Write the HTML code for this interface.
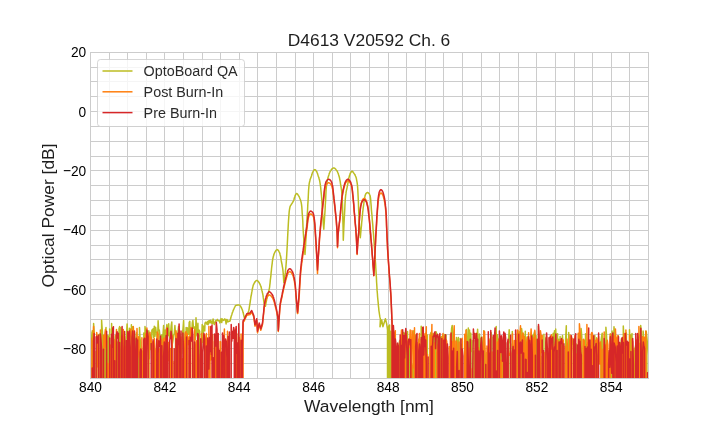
<!DOCTYPE html>
<html><head><meta charset="utf-8"><style>
html,body{margin:0;padding:0;background:#fff;width:720px;height:432px;overflow:hidden}
svg{display:block;font-family:"Liberation Sans", sans-serif;will-change:transform}
</style></head><body>
<svg width="720" height="432" viewBox="0 0 720 432"><rect width="720" height="432" fill="#fff"/><path d="M90.5 52V378M109.5 52V378M127.5 52V378M146.5 52V378M164.5 52V378M183.5 52V378M202.5 52V378M220.5 52V378M239.5 52V378M257.5 52V378M276.5 52V378M295.5 52V378M313.5 52V378M332.5 52V378M350.5 52V378M369.5 52V378M388.5 52V378M406.5 52V378M425.5 52V378M443.5 52V378M462.5 52V378M481.5 52V378M499.5 52V378M518.5 52V378M536.5 52V378M555.5 52V378M574.5 52V378M592.5 52V378M611.5 52V378M629.5 52V378M648.5 52V378M90 52.5H648M90 67.5H648M90 81.5H648M90 96.5H648M90 111.5H648M90 126.5H648M90 141.5H648M90 156.5H648M90 170.5H648M90 185.5H648M90 200.5H648M90 215.5H648M90 230.5H648M90 245.5H648M90 259.5H648M90 274.5H648M90 289.5H648M90 304.5H648M90 319.5H648M90 334.5H648M90 348.5H648M90 363.5H648M90 378.5H648" stroke="#cccccc" stroke-width="1" fill="none"/><clipPath id="c"><rect x="90.0" y="51.84" width="558.0" height="326.15999999999997"/></clipPath><g clip-path="url(#c)" fill="none" stroke-width="1.5" stroke-linejoin="round"><path d="M88.0 333.4L88.6 335.2L89.2 332.8L89.9 1500.0L90.5 332.0L91.1 348.1L91.7 348.4L92.3 330.8L93.0 1500.0L93.6 323.6L94.2 332.3L94.8 1500.0L95.4 1500.0L96.1 351.4L96.7 1500.0L97.3 1500.0L97.9 1500.0L98.5 335.8L99.2 334.2L99.8 334.6L100.4 335.4L101.0 1500.0L101.6 320.2L102.3 330.6L102.9 341.3L103.5 1500.0L104.1 1500.0L104.7 336.7L105.4 337.0L106.0 327.6L106.6 1500.0L107.2 1500.0L107.8 335.2L108.5 336.7L109.1 1500.0L109.7 329.1L110.3 1500.0L110.9 1500.0L111.6 323.6L112.2 346.4L112.8 1500.0L113.4 1500.0L114.0 1500.0L114.7 343.3L115.3 335.6L115.9 1500.0L116.5 345.6L117.1 346.5L117.8 341.9L118.4 1500.0L119.0 328.6L119.6 326.6L120.2 1500.0L120.9 327.4L121.5 347.6L122.1 341.9L122.7 1500.0L123.3 338.4L124.0 1500.0L124.6 1500.0L125.2 1500.0L125.8 340.9L126.4 337.3L127.1 323.9L127.7 333.1L128.3 343.1L128.9 1500.0L129.5 328.3L130.2 1500.0L130.8 1500.0L131.4 324.8L132.0 1500.0L132.6 326.7L133.3 336.2L133.9 1500.0L134.5 1500.0L135.1 341.0L135.7 340.4L136.4 332.7L137.0 1500.0L137.6 1500.0L138.2 350.4L138.8 1500.0L139.5 327.5L140.1 339.7L140.7 342.3L141.3 1500.0L141.9 1500.0L142.6 351.3L143.2 1500.0L143.8 333.1L144.4 1500.0L145.0 326.5L145.7 331.5L146.3 332.9L146.9 1500.0L147.5 1500.0L148.1 1500.0L148.8 330.7L149.4 358.7L150.0 334.9L150.6 338.6L151.2 349.7L151.9 330.0L152.5 330.0L153.1 328.8L153.7 337.8L154.3 326.2L155.0 336.3L155.6 327.2L156.2 332.1L156.8 332.9L157.4 349.2L158.1 320.8L158.7 330.2L159.3 330.0L159.9 335.8L160.5 348.9L161.2 356.3L161.8 334.9L162.4 1500.0L163.0 334.6L163.6 325.5L164.3 1500.0L164.9 1500.0L165.0 330.0L165.6 344.1L166.2 330.3L166.9 324.6L167.5 330.1L168.1 335.2L168.7 323.7L169.3 336.3L170.0 338.2L170.6 333.5L171.2 325.5L171.8 321.9L172.4 343.6L173.1 339.2L173.7 335.2L174.3 333.3L174.9 325.5L175.5 334.1L176.2 1500.0L176.8 1500.0L177.4 354.7L178.0 331.3L178.6 326.4L179.3 1500.0L179.9 333.7L180.5 1500.0L181.1 339.9L181.7 353.4L182.4 333.7L183.0 329.1L183.6 320.5L184.2 341.2L184.8 342.1L185.5 1500.0L186.1 327.6L186.7 338.2L187.3 327.8L187.9 329.5L188.6 334.5L189.2 322.3L189.8 321.3L190.4 344.4L191.0 329.1L191.7 334.7L192.3 323.0L192.9 320.5L193.5 328.3L194.1 326.7L194.8 328.4L195.4 339.7L196.0 317.8L196.6 330.5L197.2 335.9L197.9 323.2L198.5 347.5L199.1 330.0L199.7 331.4L200.3 1500.0L201.0 349.3L201.6 341.1L202.2 324.6L202.8 342.3L203.4 326.0L204.1 326.7L204.7 330.9L205.0 323.1L205.6 322.2L206.2 322.7L206.9 324.2L207.5 321.6L208.1 324.7L208.7 320.9L209.3 320.6L210.0 323.1L210.6 320.2L211.2 321.3L211.8 323.3L212.4 323.7L213.1 318.9L213.7 322.4L214.3 324.6L214.9 323.4L215.5 321.1L216.2 320.4L216.8 320.8L217.4 319.4L218.0 320.8L218.6 320.8L219.3 320.8L219.9 322.9L220.5 320.6L221.1 318.6L221.7 322.5L222.4 319.0L223.0 320.0L223.6 320.4L224.2 320.0L224.8 318.9L225.5 320.1L226.1 323.9L226.7 319.4L227.3 320.0L227.9 322.0L228.6 321.3L229.2 321.3L230.0 321.0L230.2 320.0L230.5 319.0L230.8 318.1L231.0 317.2L231.2 316.3L231.5 315.5L231.8 314.7L232.0 313.9L232.2 313.1L232.5 312.4L232.8 311.7L233.0 311.0L233.2 310.4L233.5 309.8L233.8 309.2L234.0 308.7L234.2 308.1L234.5 307.6L234.8 307.0L235.0 306.5L235.2 306.1L235.5 305.8L235.8 305.5L236.0 305.4L236.3 305.3L236.5 305.3L236.8 305.2L237.0 305.2L237.3 305.2L237.5 305.1L237.8 305.1L238.0 305.1L238.3 305.0L238.5 305.0L238.8 305.0L239.0 305.0L239.3 305.0L239.6 305.1L239.9 305.3L240.1 305.6L240.4 306.0L240.7 306.4L240.9 306.9L241.2 307.5L241.5 308.0L241.8 308.5L242.0 309.1L242.3 309.8L242.5 310.6L242.8 311.4L243.0 312.3L243.3 313.2L243.5 314.2L243.8 315.3L244.0 316.4L244.3 317.5L244.6 317.3L244.9 317.0L245.1 316.7L245.4 316.4L245.7 316.1L245.9 315.7L246.2 315.4L246.5 315.0L246.8 314.7L247.0 314.3L247.2 314.0L247.5 313.6L247.8 313.2L248.0 312.7L248.2 312.1L248.5 311.5L248.8 310.5L249.1 309.1L249.3 307.5L249.6 305.6L249.9 303.8L250.2 302.0L250.4 300.4L250.7 298.7L250.9 297.0L251.2 295.5L251.5 294.1L251.7 292.6L252.0 291.2L252.2 289.8L252.5 288.5L252.7 287.3L253.0 286.2L253.2 285.3L253.5 284.7L253.8 284.2L254.0 283.7L254.3 283.2L254.5 282.7L254.8 282.3L255.0 281.9L255.3 281.6L255.5 281.3L255.8 281.0L256.0 280.8L256.3 280.6L256.5 280.5L256.8 280.5L257.1 280.5L257.3 280.6L257.6 280.8L257.8 281.0L258.1 281.3L258.4 281.6L258.6 282.0L258.9 282.4L259.2 282.8L259.4 283.3L259.7 283.7L259.9 284.2L260.2 284.7L260.4 285.2L260.7 285.9L260.9 286.6L261.2 287.4L261.4 288.4L261.7 289.3L261.9 290.4L262.2 291.5L262.4 292.6L262.7 293.8L263.0 295.3L263.2 297.2L263.5 299.2L263.8 301.2L264.0 302.9L264.3 304.0L264.6 304.8L264.9 305.5L265.1 306.0L265.4 306.3L265.7 304.8L265.9 303.3L266.2 301.9L266.5 300.6L266.7 299.2L267.0 298.0L267.3 296.9L267.5 295.9L267.8 295.0L268.0 294.1L268.3 293.2L268.5 292.3L268.8 291.3L269.0 290.1L269.3 288.8L269.6 287.1L269.8 285.1L270.1 282.8L270.3 280.4L270.6 278.0L270.9 275.6L271.1 272.9L271.4 270.3L271.6 268.0L271.9 265.6L272.2 263.4L272.4 261.3L272.7 259.4L273.0 258.0L273.2 257.0L273.5 256.0L273.8 255.1L274.0 254.3L274.2 253.6L274.5 253.0L274.8 252.4L275.0 252.0L275.2 251.6L275.5 251.2L275.8 250.8L276.0 250.5L276.2 250.2L276.5 250.0L276.8 249.8L277.0 249.6L277.2 249.6L277.5 249.7L277.8 249.8L278.0 250.1L278.2 250.4L278.5 250.7L278.8 251.1L279.0 251.5L279.2 252.0L279.5 252.6L279.8 253.3L280.0 254.1L280.2 255.0L280.5 256.0L280.8 257.2L281.0 258.8L281.2 260.4L281.5 262.0L281.8 263.5L282.1 264.9L282.3 266.3L282.6 267.9L282.9 270.0L283.2 273.2L283.5 277.5L283.8 282.5L284.0 281.7L284.3 280.6L284.5 279.1L284.8 277.3L285.0 275.2L285.3 272.9L285.5 270.5L285.8 268.0L286.1 264.5L286.4 260.1L286.7 255.2L287.0 250.0L287.3 244.3L287.6 238.0L287.9 232.0L288.2 226.4L288.5 221.0L288.8 216.8L289.0 214.1L289.2 211.6L289.5 209.5L289.8 207.9L290.0 206.8L290.3 206.1L290.6 205.5L290.9 205.1L291.1 204.7L291.4 204.3L291.7 203.9L292.0 203.5L292.2 203.0L292.5 202.6L292.7 202.2L293.0 201.8L293.2 201.3L293.5 200.8L293.8 200.2L294.0 199.5L294.2 198.5L294.5 197.6L294.8 196.7L295.0 196.0L295.3 195.4L295.5 194.8L295.8 194.3L296.1 193.9L296.3 193.6L296.6 193.5L296.9 193.6L297.1 193.7L297.4 194.0L297.7 194.3L297.9 194.7L298.2 195.1L298.5 195.6L298.8 196.0L299.0 196.4L299.3 197.0L299.5 197.5L299.8 198.1L300.0 198.8L300.3 199.5L300.6 200.4L300.9 201.4L301.2 202.7L301.5 204.4L301.8 206.8L302.0 209.8L302.2 213.2L302.5 216.8L302.8 221.5L303.0 227.0L303.3 232.0L303.6 236.7L303.9 241.0L304.2 245.0L304.5 248.4L304.7 251.5L305.0 254.5L305.3 250.0L305.6 245.0L305.9 238.6L306.2 232.0L306.5 227.3L306.8 222.9L307.0 218.5L307.3 214.0L307.6 209.5L307.8 204.8L308.1 200.3L308.3 196.0L308.6 190.0L309.0 185.5L309.2 183.6L309.5 182.2L309.8 181.0L310.0 180.0L310.2 179.2L310.5 178.5L310.8 177.9L311.0 177.3L311.2 176.7L311.5 175.9L311.8 175.1L312.0 174.3L312.2 173.4L312.5 172.6L312.8 172.0L313.0 171.5L313.3 171.1L313.5 170.7L313.8 170.4L314.0 170.1L314.3 169.8L314.5 169.7L314.8 169.6L315.1 169.7L315.3 169.8L315.6 170.1L315.8 170.4L316.1 170.7L316.3 171.1L316.6 171.5L316.9 172.0L317.1 172.6L317.4 173.3L317.7 174.2L318.0 175.0L318.2 175.9L318.5 176.7L318.8 177.4L319.0 178.2L319.2 179.0L319.5 180.0L319.8 181.5L320.1 183.4L320.4 185.5L320.7 187.7L320.9 190.1L321.2 192.9L321.5 196.0L321.8 199.9L322.1 204.6L322.3 209.5L322.6 214.0L322.9 218.1L323.2 222.1L323.5 225.8L323.8 229.3L324.0 225.8L324.3 222.1L324.5 218.1L324.8 214.0L325.1 209.7L325.3 205.0L325.6 200.3L325.8 196.0L326.1 190.0L326.5 185.5L326.8 183.6L327.0 182.0L327.3 180.7L327.5 179.5L327.8 178.5L328.0 177.6L328.3 176.7L328.6 175.8L328.9 174.9L329.1 174.1L329.4 173.3L329.7 172.6L329.9 172.0L330.2 171.4L330.5 171.0L330.8 170.6L331.0 170.3L331.2 169.9L331.5 169.6L331.8 169.3L332.0 169.0L332.2 168.7L332.5 168.5L332.8 168.3L333.0 168.1L333.2 168.0L333.5 167.9L333.8 167.9L334.0 167.9L334.2 168.0L334.5 168.1L334.8 168.3L335.0 168.5L335.2 168.7L335.5 169.0L335.8 169.3L336.0 169.6L336.2 169.9L336.5 170.3L336.8 170.6L337.0 171.0L337.3 171.4L337.6 172.0L337.8 172.6L338.1 173.3L338.4 174.0L338.6 174.8L338.9 175.7L339.2 176.7L339.5 177.8L339.7 179.1L340.0 180.5L340.3 182.1L340.5 183.8L340.8 185.5L341.1 187.1L341.3 188.7L341.6 190.6L341.8 192.9L342.1 196.0L342.5 204.9L342.8 218.0L343.1 228.3L343.3 240.3L343.6 233.1L343.9 226.2L344.2 220.0L344.5 214.4L344.8 208.7L345.0 203.5L345.3 199.2L345.6 196.0L345.9 193.9L346.1 192.1L346.4 190.7L346.7 189.3L347.0 188.1L347.2 186.9L347.5 185.5L347.8 183.9L348.1 182.3L348.4 180.7L348.6 179.2L348.9 177.9L349.2 176.7L349.5 175.8L349.7 174.9L350.0 174.2L350.2 173.5L350.5 173.0L350.8 172.6L351.0 172.2L351.3 171.8L351.6 171.5L351.8 171.3L352.1 171.2L352.4 171.3L352.6 171.5L352.9 171.9L353.2 172.2L353.4 172.6L353.7 173.0L354.0 173.4L354.2 173.7L354.5 174.1L354.8 174.5L355.0 175.0L355.3 175.5L355.5 176.0L355.8 176.7L356.1 177.5L356.4 178.6L356.6 179.8L356.9 181.4L357.2 183.2L357.5 185.5L357.8 189.9L358.1 196.0L358.4 202.0L358.6 208.7L358.9 215.3L359.2 221.0L359.5 225.9L359.8 230.3L360.0 234.3L360.3 237.8L360.6 234.5L360.9 231.2L361.2 228.0L361.5 225.3L361.7 222.5L362.0 219.8L362.2 217.2L362.5 214.6L362.7 212.2L363.0 210.0L363.2 207.9L363.5 205.8L363.8 203.7L364.0 201.8L364.2 199.9L364.5 198.3L364.8 197.0L365.0 196.0L365.3 195.1L365.6 194.3L365.9 193.7L366.2 193.3L366.5 193.1L366.7 192.8L367.0 192.7L367.2 192.5L367.5 192.5L367.8 192.5L368.0 192.7L368.3 192.8L368.5 193.1L368.8 193.3L369.1 193.6L369.4 194.0L369.6 194.5L369.9 195.2L370.2 196.0L370.4 197.4L370.7 199.8L370.9 202.8L371.2 206.2L371.4 209.6L371.7 212.7L372.0 215.8L372.2 218.9L372.5 222.1L372.8 225.3L373.0 228.6L373.3 232.0L373.6 235.3L373.8 238.7L374.1 242.1L374.3 245.6L374.6 249.1L374.8 252.8L375.1 256.5L375.3 260.2L375.6 264.1L375.8 268.0L376.1 272.6L376.4 277.5L376.6 282.3L376.9 286.8L377.1 290.4L377.4 293.8L377.6 297.0L377.9 300.0L378.2 302.9L378.4 305.6L378.7 308.2L378.9 310.5L379.2 312.5L379.5 314.5L379.8 316.4L380.1 317.9L380.4 319.2L380.0 326.7L381.7 320.0L382.9 326.7L385.4 318.8L386.7 324.0L387.5 330.0L388.0 1500.0L388.6 326.0L389.2 1500.0L389.6 325.0L390.2 1500.0L390.8 331.2L391.4 343.7L392.0 1500.0L392.7 330.4L393.3 1500.0L393.9 363.2L394.5 1500.0L395.1 1500.0L395.8 343.6L396.4 1500.0L397.0 352.3L397.6 351.1L398.2 345.6L398.9 1500.0L399.5 340.9L400.1 1500.0L400.7 1500.0L401.3 349.2L402.0 1500.0L402.6 336.9L403.2 332.5L403.8 332.4L404.4 1500.0L405.1 333.5L405.7 343.7L406.3 1500.0L406.9 346.7L407.5 331.6L408.2 1500.0L408.8 1500.0L409.4 345.4L410.0 1500.0L410.6 341.2L411.3 350.9L411.9 1500.0L412.5 364.9L413.1 1500.0L413.7 330.8L414.4 351.6L415.0 334.6L415.6 336.0L416.2 1500.0L416.8 1500.0L417.5 1500.0L418.1 1500.0L418.7 339.3L419.3 349.8L419.9 1500.0L420.6 1500.0L421.2 326.3L421.8 353.0L422.4 1500.0L423.0 340.3L423.7 343.4L424.3 339.2L424.9 1500.0L425.5 367.0L426.1 332.7L426.8 1500.0L427.4 334.9L428.0 1500.0L428.6 1500.0L429.2 1500.0L429.9 365.9L430.5 333.7L431.1 332.3L431.7 341.6L432.3 339.5L433.0 333.6L433.6 1500.0L434.2 334.8L434.8 333.4L435.4 1500.0L436.1 331.8L436.7 334.4L437.3 341.5L437.9 355.2L438.5 1500.0L439.2 368.6L439.8 1500.0L440.4 337.2L441.0 1500.0L441.6 336.4L442.3 1500.0L442.9 338.2L443.5 341.9L444.1 336.8L444.7 334.5L445.4 363.2L446.0 335.0L446.6 1500.0L447.2 1500.0L447.8 1500.0L448.5 1500.0L449.1 1500.0L449.7 1500.0L450.3 1500.0L450.9 338.6L451.6 328.5L452.2 325.4L452.8 333.5L453.4 1500.0L454.0 334.5L454.7 1500.0L455.3 349.1L455.9 348.7L456.5 337.4L457.1 1500.0L457.8 341.2L458.4 337.6L459.0 1500.0L459.6 1500.0L460.2 338.4L460.9 1500.0L461.5 344.3L462.1 1500.0L462.7 1500.0L463.3 1500.0L464.0 1500.0L464.6 341.9L465.2 334.8L465.8 1500.0L466.4 329.6L467.1 1500.0L467.7 341.0L468.3 328.1L468.9 1500.0L469.5 329.9L470.2 340.2L470.8 333.3L471.4 351.6L472.0 340.5L472.6 1500.0L473.3 1500.0L473.9 351.0L474.5 1500.0L475.1 340.5L475.7 1500.0L476.4 341.2L477.0 338.9L477.6 329.3L478.2 346.0L478.8 1500.0L479.5 334.0L480.1 342.6L480.7 1500.0L481.3 338.3L481.9 337.0L482.6 347.8L483.2 1500.0L483.8 330.7L484.4 359.3L485.0 1500.0L485.7 1500.0L486.3 1500.0L486.9 352.5L487.5 355.0L488.1 1500.0L488.8 338.6L489.4 342.3L490.0 347.0L490.6 1500.0L491.2 332.8L491.9 1500.0L492.5 1500.0L493.1 337.2L493.7 346.9L494.3 1500.0L495.0 1500.0L495.6 342.4L496.2 326.5L496.8 1500.0L497.4 334.8L498.1 341.1L498.7 1500.0L499.3 1500.0L499.9 354.4L500.5 1500.0L501.2 339.9L501.8 344.2L502.4 354.6L503.0 1500.0L503.6 354.1L504.3 1500.0L504.9 335.8L505.5 1500.0L506.1 1500.0L506.7 1500.0L507.4 342.5L508.0 1500.0L508.6 338.2L509.2 329.8L509.8 340.8L510.5 344.0L511.1 1500.0L511.7 1500.0L512.3 331.4L512.9 1500.0L513.6 1500.0L514.2 1500.0L514.8 1500.0L515.4 1500.0L516.0 1500.0L516.7 1500.0L517.3 333.8L517.9 332.9L518.5 348.4L519.1 331.8L519.8 1500.0L520.4 1500.0L521.0 338.7L521.6 328.5L522.2 333.6L522.9 1500.0L523.5 333.9L524.1 1500.0L524.7 1500.0L525.3 331.2L526.0 1500.0L526.6 349.9L527.2 336.7L527.8 1500.0L528.4 1500.0L529.1 339.1L529.7 341.8L530.3 1500.0L530.9 336.2L531.5 338.8L532.2 335.6L532.8 341.4L533.4 336.3L534.0 333.6L534.6 331.5L535.3 336.8L535.9 335.5L536.5 341.2L537.1 1500.0L537.7 1500.0L538.4 326.2L539.0 1500.0L539.6 1500.0L540.2 1500.0L540.8 1500.0L541.5 1500.0L542.1 356.4L542.7 1500.0L543.3 1500.0L543.9 334.2L544.6 1500.0L545.2 1500.0L545.8 337.9L546.4 359.9L547.0 1500.0L547.7 1500.0L548.3 1500.0L548.9 1500.0L549.5 337.7L550.1 1500.0L550.8 1500.0L551.4 1500.0L552.0 1500.0L552.6 343.8L553.2 333.3L553.9 345.3L554.5 330.8L555.1 1500.0L555.7 329.0L556.3 346.6L557.0 1500.0L557.6 333.7L558.2 1500.0L558.8 339.2L559.4 1500.0L560.1 336.5L560.7 1500.0L561.3 1500.0L561.9 342.3L562.5 335.5L563.2 349.3L563.8 1500.0L564.4 1500.0L565.0 1500.0L565.6 339.2L566.3 325.8L566.9 1500.0L567.5 349.6L568.1 382.8L568.7 332.6L569.4 354.0L570.0 1500.0L570.6 352.8L571.2 340.2L571.8 337.9L572.5 344.1L573.1 341.3L573.7 353.3L574.3 347.1L574.9 339.0L575.6 1500.0L576.2 343.9L576.8 1500.0L577.4 1500.0L578.0 1500.0L578.7 335.4L579.3 1500.0L579.9 352.2L580.5 1500.0L581.1 328.5L581.8 336.6L582.4 1500.0L583.0 1500.0L583.6 346.1L584.2 340.4L584.9 1500.0L585.5 333.7L586.1 1500.0L586.7 344.4L587.3 1500.0L588.0 344.2L588.6 1500.0L589.2 1500.0L589.8 345.5L590.4 1500.0L591.1 343.4L591.7 338.3L592.3 343.3L592.9 353.2L593.5 1500.0L594.2 1500.0L594.8 335.6L595.4 1500.0L596.0 1500.0L596.6 337.7L597.3 1500.0L597.9 1500.0L598.5 1500.0L599.1 1500.0L599.7 1500.0L600.4 1500.0L601.0 341.1L601.6 336.7L602.2 333.2L602.8 1500.0L603.5 1500.0L604.1 1500.0L604.7 1500.0L605.3 1500.0L605.9 327.3L606.6 336.5L607.2 364.6L607.8 1500.0L608.4 1500.0L609.0 352.2L609.7 1500.0L610.3 333.9L610.9 337.4L611.5 1500.0L612.1 331.1L612.8 342.8L613.4 350.1L614.0 326.8L614.6 335.4L615.2 347.5L615.9 337.1L616.5 1500.0L617.1 1500.0L617.7 1500.0L618.3 335.8L619.0 1500.0L619.6 342.6L620.2 351.0L620.8 350.4L621.4 338.7L622.1 338.4L622.7 1500.0L623.3 326.0L623.9 337.6L624.5 1500.0L625.2 344.5L625.8 346.0L626.4 333.0L627.0 1500.0L627.6 354.6L628.3 1500.0L628.9 1500.0L629.5 329.8L630.1 344.0L630.7 335.0L631.4 1500.0L632.0 333.6L632.6 1500.0L633.2 1500.0L633.8 350.0L634.5 1500.0L635.1 348.5L635.7 345.2L636.3 343.3L636.9 359.6L637.6 349.9L638.2 337.6L638.8 341.4L639.4 335.9L640.0 334.7L640.7 325.5L641.3 332.4L641.9 1500.0L642.5 1500.0L643.1 331.0L643.8 339.1L644.4 1500.0L645.0 343.6L645.6 1500.0L646.2 331.2L646.9 337.7L647.5 344.0L648.1 355.2L648.7 1500.0L649.3 1500.0L650.0 341.7L650.6 1500.0L651.2 339.0L651.8 1500.0" stroke="#bcbd22"/><path d="M88.0 357.8L88.6 332.2L89.2 340.3L89.9 344.2L90.5 356.4L91.1 338.2L91.7 1500.0L92.3 1500.0L93.0 342.1L93.6 326.5L94.2 357.9L94.8 1500.0L95.4 1500.0L96.1 1500.0L96.7 332.6L97.3 337.3L97.9 366.7L98.5 349.9L99.2 1500.0L99.8 1500.0L100.4 329.9L101.0 1500.0L101.6 370.0L102.3 1500.0L102.9 1500.0L103.5 335.2L104.1 349.7L104.7 335.9L105.4 329.6L106.0 347.1L106.6 341.2L107.2 1500.0L107.8 363.6L108.5 1500.0L109.1 389.4L109.7 358.2L110.3 345.1L110.9 1500.0L111.6 361.1L112.2 1500.0L112.8 348.5L113.4 341.3L114.0 339.6L114.7 1500.0L115.3 1500.0L115.9 342.5L116.5 329.6L117.1 1500.0L117.8 1500.0L118.4 362.6L119.0 343.3L119.6 1500.0L120.2 1500.0L120.9 363.9L121.5 335.8L122.1 335.9L122.7 1500.0L123.3 329.4L124.0 1500.0L124.6 336.5L125.2 1500.0L125.8 346.5L126.4 1500.0L127.1 1500.0L127.7 368.5L128.3 342.1L128.9 1500.0L129.5 337.8L130.2 331.3L130.8 328.9L131.4 341.0L132.0 1500.0L132.6 1500.0L133.3 326.6L133.9 338.9L134.5 1500.0L135.1 366.0L135.7 1500.0L136.4 1500.0L137.0 328.4L137.6 358.3L138.2 351.8L138.8 336.5L139.5 352.4L140.1 1500.0L140.7 1500.0L141.3 1500.0L141.9 337.7L142.6 1500.0L143.2 357.2L143.8 344.5L144.4 1500.0L145.0 345.4L145.7 333.8L146.3 1500.0L146.9 328.0L147.5 1500.0L148.1 1500.0L148.8 362.0L149.4 333.3L150.0 332.4L150.6 341.7L151.2 337.4L151.9 353.1L152.5 342.0L153.1 1500.0L153.7 1500.0L154.3 338.6L155.0 348.0L155.6 352.7L156.2 1500.0L156.8 1500.0L157.4 332.0L158.1 333.9L158.7 1500.0L159.3 354.0L159.9 348.4L160.5 1500.0L161.2 339.5L161.8 1500.0L162.4 347.0L163.0 343.4L163.6 338.4L164.3 338.1L164.9 361.3L165.5 337.9L166.1 1500.0L166.7 327.9L167.4 339.4L168.0 360.4L168.6 342.4L169.2 344.4L169.8 1500.0L170.5 348.4L171.1 1500.0L171.7 1500.0L172.3 335.9L172.9 1500.0L173.6 1500.0L174.2 361.4L174.8 1500.0L175.4 1500.0L176.0 330.8L176.7 337.0L177.3 1500.0L177.9 1500.0L178.5 365.1L179.1 333.5L179.8 1500.0L180.4 1500.0L181.0 337.0L181.6 1500.0L182.2 358.7L182.9 1500.0L183.5 1500.0L184.1 1500.0L184.7 344.8L185.3 332.9L186.0 331.7L186.6 1500.0L187.2 333.7L187.8 342.8L188.4 344.5L189.1 336.6L189.7 1500.0L190.3 334.1L190.9 327.5L191.5 333.3L192.2 335.5L192.8 1500.0L193.4 381.4L194.0 351.9L194.6 329.7L195.3 1500.0L195.9 346.9L196.5 340.8L197.1 1500.0L197.7 341.5L198.4 342.0L199.0 1500.0L199.6 1500.0L200.2 354.7L200.8 1500.0L201.5 333.6L202.1 1500.0L202.7 1500.0L203.3 1500.0L203.9 1500.0L204.6 335.1L205.2 1500.0L205.8 345.3L206.4 333.6L207.0 1500.0L207.7 1500.0L208.3 1500.0L208.9 326.5L209.5 1500.0L210.1 338.9L210.8 360.0L211.4 359.4L212.0 347.5L212.6 334.6L213.2 1500.0L213.9 1500.0L214.5 341.6L215.1 1500.0L215.7 345.1L216.3 1500.0L217.0 342.1L217.6 1500.0L218.2 1500.0L218.8 1500.0L219.4 1500.0L220.1 341.5L220.7 341.9L221.3 1500.0L221.9 1500.0L222.5 1500.0L223.2 346.2L223.8 345.8L224.4 329.1L225.0 1500.0L225.6 352.3L226.3 347.0L226.9 1500.0L227.5 331.3L228.1 1500.0L228.7 339.4L229.4 1500.0L230.0 1500.0L230.6 1500.0L231.2 1500.0L231.8 1500.0L232.5 1500.0L233.1 1500.0L233.7 1500.0L234.3 1500.0L234.9 333.2L235.6 339.1L236.2 1500.0L236.8 333.7L237.4 1500.0L238.0 1500.0L238.7 350.0L239.3 337.6L239.9 348.4L240.5 1500.0L241.1 334.1L241.8 1500.0L242.4 1500.0L243.1 322.3L244.3 320.7L246.8 315.2L250.0 314.5L251.7 312.0L253.8 317.0L255.0 326.2L256.7 320.3L257.5 332.8L259.2 324.5L260.8 330.3L262.5 324.5L263.8 312.0L264.0 309.8L264.2 307.7L264.5 306.0L264.8 304.6L265.0 303.4L265.2 302.3L265.5 301.4L265.8 300.5L266.0 299.8L266.2 299.0L266.5 298.4L266.8 297.8L267.0 297.2L267.2 296.8L267.5 296.4L267.8 296.1L268.0 295.8L268.3 295.5L268.5 295.2L268.8 295.0L269.0 294.9L269.3 294.9L269.6 294.9L269.9 295.0L270.1 295.2L270.4 295.5L270.7 295.7L271.0 296.0L271.3 296.2L271.6 296.6L271.9 296.9L272.1 297.3L272.4 297.7L272.7 298.2L273.0 298.7L273.2 299.3L273.5 299.9L273.7 300.6L274.0 301.4L274.3 302.4L274.6 303.5L274.9 304.8L275.2 306.0L275.5 307.0L275.7 307.9L276.0 308.9L276.2 309.9L276.5 311.0L276.7 312.1L277.0 313.5L277.2 314.8L277.5 316.2L277.8 318.2L278.0 321.2L278.1 325.3L278.3 331.5L278.6 327.6L278.8 323.6L279.1 319.8L279.3 316.4L279.6 312.2L279.9 308.4L280.2 305.6L280.5 303.8L280.8 302.4L281.0 301.2L281.3 300.0L281.6 298.7L281.9 297.4L282.2 296.0L282.4 294.6L282.7 293.3L283.0 292.0L283.3 290.7L283.5 289.6L283.8 288.4L284.1 287.2L284.3 286.1L284.6 285.0L284.9 284.0L285.1 282.9L285.4 281.9L285.6 280.9L285.9 279.9L286.2 278.9L286.4 278.0L286.7 277.1L286.9 276.3L287.2 275.4L287.4 274.6L287.7 273.9L287.9 273.2L288.2 272.8L288.5 272.5L288.7 272.2L289.0 272.0L289.3 271.8L289.5 271.6L289.8 271.6L290.1 271.7L290.3 271.8L290.6 272.0L290.9 272.3L291.1 272.5L291.4 272.8L291.6 273.1L291.9 273.5L292.1 273.9L292.4 274.4L292.6 274.9L292.9 275.5L293.2 276.2L293.4 277.1L293.7 278.0L293.9 279.2L294.2 280.4L294.5 281.8L294.7 283.3L295.0 285.0L295.3 287.2L295.5 290.0L295.8 293.2L296.0 296.6L296.3 299.7L296.6 303.1L296.9 306.6L297.2 310.1L297.5 313.6L297.8 313.4L298.0 310.6L298.2 307.8L298.5 304.8L298.8 301.7L299.0 298.2L299.3 294.4L299.5 290.2L299.8 286.0L300.0 281.9L300.3 278.0L300.5 274.5L300.8 271.6L301.1 269.1L301.3 266.8L301.6 264.7L301.8 262.7L302.1 260.8L302.3 259.0L302.6 257.3L302.8 255.5L303.1 253.8L303.3 252.1L303.6 250.3L303.9 248.5L304.1 246.8L304.4 245.1L304.7 243.4L304.9 241.7L305.2 240.0L305.5 238.3L305.8 236.6L306.0 235.0L306.2 233.3L306.5 231.6L306.8 229.9L307.0 228.1L307.3 226.1L307.5 223.8L307.8 221.5L308.0 219.6L308.3 218.2L308.6 217.1L308.9 216.1L309.2 215.4L309.5 214.9L309.8 214.6L310.0 214.3L310.3 214.1L310.5 214.0L310.8 213.9L311.1 214.0L311.4 214.2L311.7 214.4L312.0 214.7L312.3 215.0L312.5 215.2L312.8 215.5L313.0 215.9L313.3 216.4L313.6 217.2L313.8 218.5L314.1 220.1L314.3 221.9L314.6 224.1L314.9 227.1L315.1 231.0L315.4 235.2L315.7 239.9L316.0 244.8L316.3 250.0L316.6 255.4L316.9 261.2L317.2 267.2L317.5 273.6L317.8 266.3L318.1 261.8L318.3 257.3L318.6 253.1L318.9 248.9L319.2 244.7L319.4 240.7L319.7 236.9L320.0 233.4L320.3 230.6L320.5 227.9L320.8 225.4L321.0 223.0L321.3 220.6L321.5 218.3L321.8 216.0L322.1 213.4L322.4 210.8L322.6 208.3L322.9 205.9L323.2 203.4L323.5 201.0L323.8 198.7L324.0 196.5L324.2 194.1L324.5 191.9L324.8 190.1L325.0 188.7L325.2 187.7L325.5 186.8L325.8 186.0L326.0 185.3L326.2 184.8L326.5 184.4L326.8 184.1L327.0 183.8L327.2 183.6L327.5 183.4L327.8 183.2L328.0 183.0L328.2 182.9L328.5 182.8L328.8 182.8L329.0 182.8L329.2 182.9L329.5 183.0L329.8 183.2L330.0 183.4L330.2 183.6L330.5 183.8L330.8 184.1L331.0 184.4L331.2 184.8L331.5 185.3L331.8 186.0L332.0 186.8L332.2 187.7L332.5 188.7L332.8 190.1L333.0 191.9L333.2 194.1L333.5 196.5L333.8 198.7L334.0 201.0L334.3 203.3L334.6 205.6L334.9 208.0L335.1 210.5L335.4 213.1L335.7 216.0L336.0 218.7L336.3 221.5L336.5 224.6L336.8 228.4L337.1 233.4L337.3 239.6L337.5 247.8L337.8 241.7L338.0 236.7L338.3 232.9L338.6 230.1L338.8 227.9L339.1 226.0L339.3 224.1L339.6 222.0L339.9 219.6L340.1 217.0L340.4 214.3L340.6 211.6L340.9 208.8L341.1 206.1L341.4 203.6L341.6 201.2L341.9 199.1L342.1 197.3L342.4 195.6L342.6 194.1L342.9 192.7L343.1 191.3L343.4 190.1L343.7 189.0L343.9 187.9L344.2 187.0L344.5 186.0L344.7 185.2L345.0 184.3L345.3 183.6L345.5 183.0L345.8 182.6L346.1 182.2L346.3 181.9L346.6 181.6L346.9 181.3L347.1 181.1L347.4 180.9L347.6 180.8L347.9 180.8L348.2 180.8L348.4 180.9L348.7 181.1L348.9 181.3L349.2 181.6L349.5 181.9L349.7 182.2L350.0 182.6L350.3 183.0L350.6 183.5L350.9 184.2L351.1 185.0L351.4 185.9L351.7 187.0L352.0 188.3L352.2 190.2L352.5 192.4L352.7 194.8L353.0 197.3L353.2 199.8L353.5 202.7L353.8 205.7L354.0 208.8L354.2 212.0L354.5 215.0L354.8 217.9L355.0 220.6L355.2 223.4L355.5 226.2L355.8 229.4L356.0 232.9L356.3 237.4L356.6 242.6L356.8 248.3L357.1 254.5L357.4 248.6L357.7 244.0L358.0 239.9L358.2 237.1L358.5 234.6L358.8 231.7L359.0 226.8L359.3 220.9L359.6 216.1L359.9 212.5L360.2 209.4L360.5 206.8L360.8 205.0L361.1 203.8L361.3 202.8L361.6 201.9L361.8 201.1L362.1 200.5L362.3 200.1L362.6 199.7L362.8 199.4L363.1 199.1L363.4 198.9L363.7 198.7L363.9 198.5L364.2 198.5L364.5 198.5L364.7 198.7L365.0 198.9L365.2 199.1L365.5 199.4L365.7 199.8L366.0 200.1L366.2 200.6L366.5 201.2L366.8 202.0L367.0 202.9L367.2 203.9L367.5 205.0L367.8 206.5L368.1 208.3L368.4 210.4L368.6 212.8L368.9 215.3L369.2 217.9L369.5 220.9L369.8 224.4L370.1 228.1L370.4 231.7L370.7 234.9L370.9 238.0L371.2 241.2L371.5 244.4L371.7 247.6L372.0 250.9L372.2 254.2L372.5 257.6L372.8 261.0L373.0 264.6L373.3 268.2L373.6 271.9L373.8 275.7L374.0 273.1L374.2 269.4L374.5 264.4L374.7 259.3L375.0 254.2L375.2 249.0L375.5 243.9L375.7 238.9L376.0 234.1L376.3 229.1L376.6 224.1L376.8 219.4L377.1 215.3L377.4 211.4L377.7 207.6L377.9 204.2L378.2 201.3L378.5 199.1L378.8 197.6L379.0 196.4L379.2 195.4L379.5 194.7L379.8 194.3L380.0 193.8L380.2 193.4L380.5 193.2L380.8 193.0L381.0 192.9L381.3 193.0L381.5 193.2L381.8 193.5L382.1 193.9L382.3 194.3L382.6 194.7L382.9 195.3L383.2 196.0L383.4 196.9L383.7 198.0L384.0 199.1L384.3 200.2L384.5 201.5L384.8 202.9L385.0 204.6L385.3 206.5L385.5 208.7L385.8 211.2L386.1 215.4L386.4 221.3L386.6 227.9L386.9 234.1L387.1 239.4L387.4 244.7L387.6 249.9L387.9 254.5L388.2 259.1L388.5 263.3L388.8 267.4L389.1 271.2L389.3 274.8L389.6 278.3L389.9 281.8L390.2 285.4L390.4 289.2L390.7 293.4L391.0 298.0L391.2 303.1L391.5 309.6L391.8 317.5L392.1 326.0L392.4 1500.0L392.8 1500.0L393.4 348.3L394.0 1500.0L394.7 332.6L395.3 330.7L395.9 1500.0L396.5 357.0L397.1 1500.0L397.8 1500.0L398.4 350.6L399.0 1500.0L399.6 1500.0L400.2 340.0L400.9 340.3L401.5 330.0L402.1 1500.0L402.7 340.3L403.3 356.0L404.0 346.7L404.6 1500.0L405.2 348.1L405.8 340.0L406.4 333.8L407.1 346.7L407.7 343.2L408.3 340.5L408.9 347.8L409.5 346.2L410.2 330.1L410.8 347.1L411.4 1500.0L412.0 330.5L412.6 333.3L413.3 337.4L413.9 367.9L414.5 327.7L415.1 1500.0L415.7 357.2L416.4 346.5L417.0 342.6L417.6 348.0L418.2 1500.0L418.8 343.1L419.5 333.4L420.1 1500.0L420.7 1500.0L421.3 339.4L421.9 340.1L422.6 362.0L423.2 1500.0L423.8 337.7L424.4 1500.0L425.0 333.7L425.7 351.0L426.3 326.8L426.9 1500.0L427.5 354.6L428.1 1500.0L428.8 1500.0L429.4 1500.0L430.0 335.0L430.6 1500.0L431.2 360.1L431.9 324.5L432.5 1500.0L433.1 1500.0L433.7 351.1L434.3 342.7L435.0 1500.0L435.6 1500.0L436.2 1500.0L436.8 352.7L437.4 345.3L438.1 344.6L438.7 362.2L439.3 334.9L439.9 370.1L440.5 1500.0L441.2 1500.0L441.8 338.8L442.4 339.6L443.0 333.5L443.6 345.5L444.3 1500.0L444.9 358.9L445.5 359.5L446.1 339.6L446.7 341.0L447.4 355.6L448.0 1500.0L448.6 1500.0L449.2 346.8L449.8 367.1L450.5 334.6L451.1 1500.0L451.7 341.3L452.3 341.8L452.9 357.7L453.6 337.3L454.2 325.8L454.8 387.1L455.4 1500.0L456.0 341.0L456.7 342.2L457.3 358.5L457.9 1500.0L458.5 1500.0L459.1 342.0L459.8 1500.0L460.4 1500.0L461.0 358.3L461.6 1500.0L462.2 338.3L462.9 1500.0L463.5 1500.0L464.1 1500.0L464.7 334.3L465.3 373.3L466.0 330.3L466.6 1500.0L467.2 1500.0L467.8 1500.0L468.4 1500.0L469.1 347.9L469.7 1500.0L470.3 1500.0L470.9 379.6L471.5 1500.0L472.2 368.7L472.8 1500.0L473.4 1500.0L474.0 1500.0L474.6 1500.0L475.3 349.3L475.9 333.5L476.5 333.4L477.1 1500.0L477.7 1500.0L478.4 347.8L479.0 1500.0L479.6 1500.0L480.2 1500.0L480.8 345.7L481.5 1500.0L482.1 1500.0L482.7 1500.0L483.3 353.2L483.9 331.1L484.6 331.7L485.2 354.7L485.8 1500.0L486.4 1500.0L487.0 346.0L487.7 354.4L488.3 1500.0L488.9 339.7L489.5 349.1L490.1 1500.0L490.8 1500.0L491.4 1500.0L492.0 351.9L492.6 1500.0L493.2 1500.0L493.9 1500.0L494.5 1500.0L495.1 340.5L495.7 333.3L496.3 1500.0L497.0 1500.0L497.6 342.1L498.2 361.3L498.8 339.1L499.4 1500.0L500.1 348.5L500.7 1500.0L501.3 360.2L501.9 1500.0L502.5 1500.0L503.2 343.7L503.8 333.5L504.4 347.4L505.0 354.6L505.6 1500.0L506.3 1500.0L506.9 1500.0L507.5 1500.0L508.1 341.0L508.7 351.7L509.4 355.2L510.0 354.4L510.6 353.1L511.2 1500.0L511.8 1500.0L512.5 333.7L513.1 1500.0L513.7 355.9L514.3 340.6L514.9 1500.0L515.6 1500.0L516.2 340.8L516.8 353.4L517.4 330.1L518.0 330.6L518.7 1500.0L519.3 1500.0L519.9 333.9L520.5 325.8L521.1 1500.0L521.8 1500.0L522.4 335.7L523.0 333.0L523.6 1500.0L524.2 336.2L524.9 341.1L525.5 1500.0L526.1 361.6L526.7 343.0L527.3 337.4L528.0 374.6L528.6 332.7L529.2 1500.0L529.8 1500.0L530.4 343.1L531.1 328.9L531.7 343.4L532.3 1500.0L532.9 339.4L533.5 338.0L534.2 1500.0L534.8 330.3L535.4 342.2L536.0 1500.0L536.6 1500.0L537.3 1500.0L537.9 1500.0L538.5 341.0L539.1 1500.0L539.7 1500.0L540.4 330.7L541.0 335.2L541.6 352.4L542.2 335.5L542.8 1500.0L543.5 1500.0L544.1 352.5L544.7 1500.0L545.3 1500.0L545.9 1500.0L546.6 337.0L547.2 370.4L547.8 348.2L548.4 1500.0L549.0 1500.0L549.7 341.1L550.3 1500.0L550.9 1500.0L551.5 334.8L552.1 370.7L552.8 347.9L553.4 346.9L554.0 1500.0L554.6 344.8L555.2 344.2L555.9 339.8L556.5 1500.0L557.1 1500.0L557.7 340.2L558.3 1500.0L559.0 1500.0L559.6 1500.0L560.2 1500.0L560.8 339.7L561.4 1500.0L562.1 1500.0L562.7 339.4L563.3 340.3L563.9 1500.0L564.5 1500.0L565.2 346.2L565.8 1500.0L566.4 1500.0L567.0 339.1L567.6 350.4L568.3 1500.0L568.9 1500.0L569.5 345.2L570.1 334.9L570.7 338.7L571.4 1500.0L572.0 338.5L572.6 1500.0L573.2 1500.0L573.8 349.0L574.5 343.8L575.1 335.3L575.7 1500.0L576.3 354.0L576.9 1500.0L577.6 1500.0L578.2 333.3L578.8 1500.0L579.4 323.8L580.0 331.1L580.7 338.7L581.3 1500.0L581.9 1500.0L582.5 1500.0L583.1 339.6L583.8 339.3L584.4 342.1L585.0 1500.0L585.6 1500.0L586.2 1500.0L586.9 324.6L587.5 360.0L588.1 343.4L588.7 1500.0L589.3 345.4L590.0 353.8L590.6 1500.0L591.2 334.2L591.8 332.5L592.4 333.5L593.1 1500.0L593.7 1500.0L594.3 1500.0L594.9 1500.0L595.5 340.2L596.2 1500.0L596.8 338.8L597.4 1500.0L598.0 345.5L598.6 336.6L599.3 350.4L599.9 364.1L600.5 342.0L601.1 350.7L601.7 1500.0L602.4 1500.0L603.0 349.5L603.6 355.4L604.2 332.1L604.8 1500.0L605.5 345.1L606.1 1500.0L606.7 344.5L607.3 340.3L607.9 344.8L608.6 1500.0L609.2 368.4L609.8 347.2L610.4 334.0L611.0 1500.0L611.7 1500.0L612.3 1500.0L612.9 345.7L613.5 342.1L614.1 336.1L614.8 1500.0L615.4 328.9L616.0 340.9L616.6 338.0L617.2 1500.0L617.9 335.4L618.5 1500.0L619.1 349.8L619.7 1500.0L620.3 344.3L621.0 1500.0L621.6 341.7L622.2 361.0L622.8 1500.0L623.4 349.9L624.1 333.5L624.7 1500.0L625.3 1500.0L625.9 330.0L626.5 1500.0L627.2 342.7L627.8 1500.0L628.4 1500.0L629.0 1500.0L629.6 335.2L630.3 1500.0L630.9 1500.0L631.5 1500.0L632.1 339.3L632.7 341.9L633.4 1500.0L634.0 1500.0L634.6 1500.0L635.2 347.9L635.8 360.5L636.5 340.0L637.1 1500.0L637.7 349.5L638.3 1500.0L638.9 326.5L639.6 1500.0L640.2 343.0L640.8 353.0L641.4 346.9L642.0 1500.0L642.7 336.6L643.3 340.4L643.9 1500.0L644.5 337.2L645.1 1500.0L645.8 331.1L646.4 1500.0L647.0 1500.0L647.6 1500.0L648.2 1500.0L648.9 329.8L649.5 1500.0L650.1 368.9L650.7 335.8L651.3 1500.0L652.0 1500.0" stroke="#ff7f0e"/><path d="M88.0 326.6L88.6 357.2L89.2 341.2L89.9 353.1L90.5 1500.0L91.1 1500.0L91.7 1500.0L92.3 368.0L93.0 1500.0L93.6 341.2L94.2 333.6L94.8 1500.0L95.4 1500.0L96.1 337.0L96.7 336.3L97.3 342.9L97.9 342.7L98.5 335.3L99.2 1500.0L99.8 1500.0L100.4 334.0L101.0 340.5L101.6 349.9L102.3 1500.0L102.9 1500.0L103.5 349.2L104.1 1500.0L104.7 1500.0L105.4 1500.0L106.0 1500.0L106.6 331.3L107.2 1500.0L107.8 1500.0L108.5 1500.0L109.1 1500.0L109.7 338.0L110.3 1500.0L110.9 1500.0L111.6 334.2L112.2 347.3L112.8 328.0L113.4 326.7L114.0 1500.0L114.7 360.8L115.3 1500.0L115.9 1500.0L116.5 334.7L117.1 331.7L117.8 338.2L118.4 333.2L119.0 1500.0L119.6 342.5L120.2 1500.0L120.9 1500.0L121.5 349.2L122.1 326.4L122.7 1500.0L123.3 1500.0L124.0 350.6L124.6 331.5L125.2 1500.0L125.8 1500.0L126.4 340.6L127.1 1500.0L127.7 331.5L128.3 334.7L128.9 1500.0L129.5 331.0L130.2 347.3L130.8 1500.0L131.4 1500.0L132.0 337.8L132.6 331.1L133.3 1500.0L133.9 343.9L134.5 330.9L135.1 1500.0L135.7 357.7L136.4 338.2L137.0 1500.0L137.6 339.9L138.2 1500.0L138.8 384.1L139.5 1500.0L140.1 352.3L140.7 348.9L141.3 350.4L141.9 1500.0L142.6 1500.0L143.2 1500.0L143.8 339.7L144.4 338.2L145.0 338.5L145.7 1500.0L146.3 356.9L146.9 330.0L147.5 332.5L148.1 336.6L148.8 1500.0L149.4 1500.0L150.0 1500.0L150.6 1500.0L151.2 343.6L151.9 1500.0L152.5 1500.0L153.1 339.7L153.7 346.6L154.3 1500.0L155.0 1500.0L155.6 1500.0L156.2 1500.0L156.8 339.1L157.4 1500.0L158.1 353.8L158.7 340.7L159.3 346.5L159.9 346.9L160.5 336.0L161.2 1500.0L161.8 345.8L162.4 1500.0L163.0 1500.0L163.6 356.5L164.3 342.0L164.9 345.2L165.5 1500.0L166.1 335.5L166.7 1500.0L167.4 328.3L168.0 1500.0L168.6 1500.0L169.2 352.5L169.8 340.0L170.5 337.5L171.1 331.3L171.7 337.0L172.3 1500.0L172.9 1500.0L173.6 1500.0L174.2 348.7L174.8 1500.0L175.4 1500.0L176.0 338.4L176.7 340.8L177.3 1500.0L177.9 333.3L178.5 344.5L179.1 324.0L179.8 353.2L180.4 1500.0L181.0 331.0L181.6 1500.0L182.2 1500.0L182.9 333.0L183.5 348.5L184.1 1500.0L184.7 1500.0L185.3 1500.0L186.0 1500.0L186.6 337.0L187.2 1500.0L187.8 1500.0L188.4 1500.0L189.1 340.6L189.7 1500.0L190.3 337.3L190.9 338.3L191.5 341.1L192.2 328.0L192.8 335.3L193.4 1500.0L194.0 1500.0L194.6 342.1L195.3 1500.0L195.9 1500.0L196.5 1500.0L197.1 1500.0L197.7 333.4L198.4 335.1L199.0 1500.0L199.6 1500.0L200.2 359.7L200.8 338.8L201.5 353.8L202.1 1500.0L202.7 352.1L203.3 344.6L203.9 333.2L204.6 338.4L205.2 1500.0L205.8 1500.0L206.4 346.1L207.0 1500.0L207.7 338.1L208.3 345.1L208.9 369.0L209.5 337.5L210.1 351.6L210.8 326.6L211.4 354.5L212.0 325.1L212.6 1500.0L213.2 357.7L213.9 1500.0L214.5 333.9L215.1 336.0L215.7 346.0L216.3 322.2L217.0 329.6L217.6 1500.0L218.2 333.6L218.8 1500.0L219.4 350.3L220.1 1500.0L220.7 1500.0L221.3 352.3L221.9 423.8L222.5 332.9L223.2 337.4L223.8 335.9L224.4 1500.0L225.0 343.2L225.6 338.9L226.3 341.4L226.9 357.4L227.5 1500.0L228.1 336.5L228.7 348.6L229.4 332.0L230.0 1500.0L230.6 1500.0L231.2 324.6L231.8 341.1L232.5 331.6L233.1 338.3L233.7 327.4L234.3 330.8L234.9 1500.0L235.6 331.2L236.2 326.4L236.8 353.3L237.4 343.1L238.0 1500.0L238.7 323.7L239.3 355.6L239.9 1500.0L240.5 1500.0L241.1 340.2L241.8 1500.0L242.4 346.9L243.1 320.8L244.3 319.2L246.8 313.8L250.0 313.0L251.7 310.5L253.8 315.5L255.0 324.7L256.7 318.8L257.5 331.3L259.2 323.0L260.8 328.8L262.5 323.0L263.8 310.5L264.0 308.0L264.2 305.8L264.5 304.0L264.8 302.5L265.0 301.2L265.2 300.0L265.5 299.0L265.8 298.0L266.0 297.2L266.2 296.4L266.5 295.7L266.8 295.0L267.0 294.4L267.2 293.9L267.5 293.5L267.8 293.1L268.0 292.8L268.3 292.5L268.5 292.2L268.8 291.9L269.0 291.8L269.3 291.8L269.6 291.8L269.9 292.0L270.1 292.2L270.4 292.4L270.7 292.7L271.0 293.0L271.3 293.3L271.6 293.7L271.9 294.0L272.1 294.5L272.4 295.0L272.7 295.5L273.0 296.0L273.2 296.7L273.5 297.4L273.7 298.2L274.0 299.0L274.3 300.1L274.6 301.3L274.9 302.7L275.2 304.0L275.5 305.1L275.7 306.1L276.0 307.1L276.2 308.2L276.5 309.3L276.7 310.6L277.0 312.0L277.2 313.4L277.5 314.9L277.8 317.0L278.0 320.0L278.1 324.3L278.3 330.5L278.6 326.3L278.8 322.3L279.1 318.5L279.3 315.0L279.6 310.8L279.9 306.9L280.2 304.0L280.5 302.2L280.8 300.7L281.0 299.5L281.3 298.3L281.6 297.0L281.9 295.6L282.2 294.2L282.4 292.7L282.7 291.4L283.0 290.0L283.3 288.7L283.5 287.5L283.8 286.3L284.1 285.1L284.3 283.9L284.6 282.8L284.9 281.7L285.1 280.6L285.4 279.5L285.6 278.4L285.9 277.4L286.2 276.4L286.4 275.4L286.7 274.5L286.9 273.6L287.2 272.7L287.4 271.9L287.7 271.1L287.9 270.4L288.2 270.0L288.5 269.7L288.7 269.4L289.0 269.1L289.3 268.9L289.5 268.7L289.8 268.7L290.1 268.8L290.3 268.9L290.6 269.1L290.9 269.4L291.1 269.7L291.4 270.0L291.6 270.3L291.9 270.7L292.1 271.1L292.4 271.6L292.6 272.2L292.9 272.8L293.2 273.6L293.4 274.4L293.7 275.5L293.9 276.7L294.2 278.0L294.5 279.4L294.7 281.0L295.0 282.8L295.3 285.1L295.5 288.0L295.8 291.3L296.0 294.8L296.3 298.0L296.6 301.5L296.9 305.1L297.2 308.6L297.5 312.2L297.8 309.6L298.0 306.9L298.2 304.1L298.5 301.1L298.8 298.0L299.0 294.5L299.3 290.6L299.5 286.5L299.8 282.4L300.0 278.3L300.3 274.4L300.5 270.9L300.8 268.0L301.1 265.5L301.3 263.3L301.6 261.2L301.8 259.2L302.1 257.3L302.3 255.5L302.6 253.8L302.8 252.1L303.1 250.4L303.3 248.7L303.6 246.9L303.9 245.1L304.1 243.4L304.4 241.7L304.7 240.1L304.9 238.4L305.2 236.7L305.5 235.0L305.8 233.4L306.0 231.8L306.2 230.1L306.5 228.5L306.8 226.7L307.0 225.0L307.3 223.0L307.5 220.7L307.8 218.5L308.0 216.6L308.3 215.2L308.6 214.1L308.9 213.2L309.2 212.5L309.5 212.0L309.8 211.7L310.0 211.4L310.3 211.2L310.5 211.1L310.8 211.0L311.1 211.1L311.4 211.3L311.7 211.5L312.0 211.8L312.3 212.0L312.5 212.3L312.8 212.6L313.0 213.0L313.3 213.5L313.6 214.3L313.8 215.5L314.1 217.1L314.3 218.9L314.6 221.0L314.9 224.0L315.1 227.9L315.4 232.0L315.7 236.6L316.0 241.5L316.3 246.6L316.6 252.0L316.9 257.7L317.2 263.7L317.5 270.0L317.8 265.3L318.1 260.7L318.3 256.3L318.6 252.0L318.9 247.7L319.2 243.5L319.4 239.4L319.7 235.5L320.0 232.0L320.3 229.1L320.5 226.3L320.8 223.7L321.0 221.3L321.3 218.8L321.5 216.4L321.8 214.0L322.1 211.3L322.4 208.7L322.6 206.1L322.9 203.5L323.2 201.0L323.5 198.5L323.8 196.0L324.0 193.7L324.2 191.3L324.5 189.0L324.8 187.0L325.0 185.5L325.2 184.4L325.5 183.5L325.8 182.6L326.0 181.9L326.2 181.4L326.5 181.0L326.8 180.7L327.0 180.4L327.2 180.1L327.5 179.9L327.8 179.7L328.0 179.5L328.2 179.4L328.5 179.3L328.8 179.3L329.0 179.3L329.2 179.4L329.5 179.5L329.8 179.7L330.0 179.9L330.2 180.1L330.5 180.4L330.8 180.7L331.0 181.0L331.2 181.4L331.5 181.9L331.8 182.6L332.0 183.5L332.2 184.4L332.5 185.5L332.8 187.0L333.0 189.0L333.2 191.3L333.5 193.7L333.8 196.0L334.0 198.4L334.3 200.8L334.6 203.3L334.9 205.8L335.1 208.3L335.4 211.1L335.7 214.0L336.0 216.9L336.3 219.7L336.5 222.9L336.8 226.9L337.1 232.0L337.3 238.3L337.5 246.6L337.8 240.9L338.0 235.9L338.3 232.0L338.6 229.3L338.8 227.0L339.1 225.1L339.3 223.2L339.6 221.0L339.9 218.6L340.1 216.0L340.4 213.3L340.6 210.5L340.9 207.7L341.1 205.0L341.4 202.4L341.6 200.0L341.9 197.8L342.1 196.0L342.4 194.3L342.6 192.8L342.9 191.3L343.1 189.9L343.4 188.7L343.7 187.5L343.9 186.5L344.2 185.5L344.5 184.6L344.7 183.7L345.0 182.8L345.3 182.1L345.5 181.5L345.8 181.0L346.1 180.7L346.3 180.3L346.6 180.0L346.9 179.7L347.1 179.5L347.4 179.3L347.6 179.2L347.9 179.2L348.2 179.2L348.4 179.4L348.7 179.5L348.9 179.8L349.2 180.0L349.5 180.3L349.7 180.7L350.0 181.0L350.3 181.4L350.6 182.0L350.9 182.7L351.1 183.5L351.4 184.4L351.7 185.5L352.0 186.9L352.2 188.8L352.5 191.0L352.7 193.5L353.0 196.0L353.2 198.6L353.5 201.5L353.8 204.6L354.0 207.7L354.2 210.9L354.5 214.0L354.8 216.9L355.0 219.7L355.2 222.4L355.5 225.3L355.8 228.5L356.0 232.0L356.3 236.5L356.6 241.8L356.8 247.5L357.1 253.7L357.4 248.6L357.7 244.0L358.0 240.0L358.2 237.3L358.5 234.9L358.8 232.0L359.0 227.2L359.3 221.4L359.6 216.8L359.9 213.3L360.2 210.3L360.5 207.8L360.8 206.0L361.1 204.9L361.3 203.9L361.6 203.0L361.8 202.3L362.1 201.7L362.3 201.3L362.6 200.9L362.8 200.6L363.1 200.3L363.4 200.1L363.7 199.9L363.9 199.8L364.2 199.8L364.5 199.8L364.7 199.9L365.0 200.1L365.2 200.3L365.5 200.6L365.7 201.0L366.0 201.3L366.2 201.7L366.5 202.3L366.8 203.1L367.0 204.0L367.2 204.9L367.5 206.0L367.8 207.4L368.1 209.2L368.4 211.3L368.6 213.5L368.9 216.0L369.2 218.5L369.5 221.5L369.8 224.8L370.1 228.4L370.4 232.0L370.7 235.1L370.9 238.2L371.2 241.3L371.5 244.4L371.7 247.6L372.0 250.8L372.2 254.1L372.5 257.5L372.8 260.9L373.0 264.4L373.3 268.0L373.6 271.7L373.8 275.5L374.0 271.8L374.2 268.0L374.5 263.0L374.7 257.8L375.0 252.5L375.2 247.2L375.5 242.0L375.7 236.9L376.0 232.0L376.3 226.8L376.6 221.8L376.8 217.0L377.1 212.7L377.4 208.7L377.7 204.8L377.9 201.2L378.2 198.2L378.5 196.0L378.8 194.5L379.0 193.2L379.2 192.2L379.5 191.5L379.8 191.0L380.0 190.6L380.2 190.2L380.5 189.9L380.8 189.7L381.0 189.6L381.3 189.7L381.5 189.9L381.8 190.2L382.1 190.6L382.3 191.0L382.6 191.5L382.9 192.1L383.2 192.9L383.4 193.8L383.7 194.8L384.0 196.0L384.3 197.2L384.5 198.5L384.8 199.9L385.0 201.6L385.3 203.6L385.5 205.9L385.8 208.5L386.1 212.8L386.4 218.9L386.6 225.6L386.9 232.0L387.1 237.4L387.4 242.9L387.6 248.1L387.9 252.8L388.2 257.5L388.5 261.8L388.8 266.0L389.1 269.9L389.3 273.5L389.6 277.0L389.9 280.6L390.2 284.2L390.4 288.1L390.7 292.2L391.0 296.9L391.2 302.0L391.5 308.6L391.8 316.5L392.1 325.0L392.4 1500.0L392.8 1500.0L393.4 325.6L394.0 336.5L394.7 1500.0L395.3 338.9L395.9 343.6L396.5 1500.0L397.1 349.2L397.8 343.1L398.4 346.7L399.0 1500.0L399.6 1500.0L400.2 335.1L400.9 1500.0L401.5 345.5L402.1 353.4L402.7 329.8L403.3 1500.0L404.0 335.4L404.6 358.0L405.2 335.6L405.8 328.6L406.4 339.0L407.1 355.2L407.7 1500.0L408.3 341.6L408.9 338.9L409.5 339.3L410.2 344.8L410.8 339.8L411.4 1500.0L412.0 1500.0L412.6 1500.0L413.3 1500.0L413.9 1500.0L414.5 1500.0L415.1 1500.0L415.7 346.3L416.4 335.4L417.0 333.5L417.6 1500.0L418.2 1500.0L418.8 350.8L419.5 344.1L420.1 350.0L420.7 1500.0L421.3 337.6L421.9 1500.0L422.6 327.8L423.2 327.0L423.8 354.9L424.4 336.3L425.0 346.6L425.7 340.0L426.3 364.5L426.9 1500.0L427.5 1500.0L428.1 357.1L428.8 1500.0L429.4 1500.0L430.0 1500.0L430.6 1500.0L431.2 346.2L431.9 1500.0L432.5 346.9L433.1 336.2L433.7 336.6L434.3 333.4L435.0 331.7L435.6 348.6L436.2 335.6L436.8 336.7L437.4 334.2L438.1 338.8L438.7 1500.0L439.3 336.7L439.9 333.5L440.5 1500.0L441.2 1500.0L441.8 338.4L442.4 1500.0L443.0 1500.0L443.6 340.3L444.3 1500.0L444.9 340.1L445.5 334.7L446.1 1500.0L446.7 353.5L447.4 343.9L448.0 357.2L448.6 1500.0L449.2 1500.0L449.8 1500.0L450.5 1500.0L451.1 332.9L451.7 1500.0L452.3 350.9L452.9 1500.0L453.6 348.2L454.2 1500.0L454.8 1500.0L455.4 1500.0L456.0 1500.0L456.7 366.4L457.3 351.4L457.9 389.4L458.5 1500.0L459.1 370.6L459.8 1500.0L460.4 1500.0L461.0 339.1L461.6 1500.0L462.2 349.0L462.9 355.9L463.5 1500.0L464.1 1500.0L464.7 1500.0L465.3 1500.0L466.0 1500.0L466.6 1500.0L467.2 341.5L467.8 342.0L468.4 365.6L469.1 1500.0L469.7 382.0L470.3 339.2L470.9 402.5L471.5 1500.0L472.2 1500.0L472.8 368.5L473.4 329.0L474.0 338.2L474.6 333.6L475.3 342.5L475.9 1500.0L476.5 333.6L477.1 347.5L477.7 339.2L478.4 1500.0L479.0 350.9L479.6 1500.0L480.2 363.9L480.8 344.9L481.5 337.6L482.1 351.1L482.7 1500.0L483.3 350.9L483.9 1500.0L484.6 1500.0L485.2 1500.0L485.8 364.5L486.4 1500.0L487.0 1500.0L487.7 1500.0L488.3 331.7L488.9 1500.0L489.5 353.3L490.1 363.1L490.8 330.4L491.4 1500.0L492.0 1500.0L492.6 1500.0L493.2 335.4L493.9 1500.0L494.5 336.4L495.1 327.9L495.7 1500.0L496.3 371.1L497.0 1500.0L497.6 350.5L498.2 1500.0L498.8 1500.0L499.4 331.0L500.1 340.8L500.7 352.6L501.3 335.8L501.9 343.5L502.5 361.2L503.2 338.7L503.8 331.9L504.4 1500.0L505.0 333.3L505.6 337.9L506.3 1500.0L506.9 374.7L507.5 343.3L508.1 339.3L508.7 1500.0L509.4 1500.0L510.0 1500.0L510.6 335.3L511.2 1500.0L511.8 1500.0L512.5 352.3L513.1 346.5L513.7 1500.0L514.3 349.9L514.9 1500.0L515.6 329.9L516.2 1500.0L516.8 1500.0L517.4 1500.0L518.0 1500.0L518.7 334.3L519.3 1500.0L519.9 343.9L520.5 342.1L521.1 353.1L521.8 344.8L522.4 339.9L523.0 1500.0L523.6 353.1L524.2 1500.0L524.9 1500.0L525.5 359.3L526.1 359.7L526.7 1500.0L527.3 372.6L528.0 1500.0L528.6 336.7L529.2 1500.0L529.8 340.5L530.4 346.5L531.1 1500.0L531.7 335.9L532.3 354.8L532.9 1500.0L533.5 1500.0L534.2 1500.0L534.8 1500.0L535.4 355.3L536.0 1500.0L536.6 1500.0L537.3 339.2L537.9 1500.0L538.5 324.5L539.1 334.7L539.7 372.0L540.4 1500.0L541.0 1500.0L541.6 1500.0L542.2 340.0L542.8 1500.0L543.5 350.5L544.1 1500.0L544.7 1500.0L545.3 1500.0L545.9 342.4L546.6 332.9L547.2 346.0L547.8 360.6L548.4 1500.0L549.0 337.8L549.7 1500.0L550.3 336.0L550.9 349.2L551.5 338.4L552.1 341.9L552.8 336.9L553.4 1500.0L554.0 352.2L554.6 347.1L555.2 346.6L555.9 333.9L556.5 1500.0L557.1 350.5L557.7 1500.0L558.3 1500.0L559.0 342.0L559.6 1500.0L560.2 341.8L560.8 343.6L561.4 338.5L562.1 342.2L562.7 1500.0L563.3 1500.0L563.9 343.8L564.5 1500.0L565.2 1500.0L565.8 1500.0L566.4 1500.0L567.0 1500.0L567.6 1500.0L568.3 352.0L568.9 1500.0L569.5 1500.0L570.1 1500.0L570.7 1500.0L571.4 335.8L572.0 1500.0L572.6 1500.0L573.2 1500.0L573.8 339.0L574.5 1500.0L575.1 337.9L575.7 333.7L576.3 1500.0L576.9 1500.0L577.6 345.1L578.2 361.6L578.8 339.3L579.4 1500.0L580.0 341.3L580.7 352.8L581.3 355.0L581.9 1500.0L582.5 1500.0L583.1 1500.0L583.8 1500.0L584.4 1500.0L585.0 346.4L585.6 1500.0L586.2 348.4L586.9 1500.0L587.5 346.9L588.1 1500.0L588.7 328.0L589.3 1500.0L590.0 340.1L590.6 1500.0L591.2 349.2L591.8 1500.0L592.4 365.7L593.1 1500.0L593.7 335.7L594.3 1500.0L594.9 347.0L595.5 347.2L596.2 343.4L596.8 355.6L597.4 1500.0L598.0 1500.0L598.6 333.0L599.3 1500.0L599.9 1500.0L600.5 1500.0L601.1 1500.0L601.7 1500.0L602.4 1500.0L603.0 1500.0L603.6 1500.0L604.2 338.5L604.8 346.9L605.5 1500.0L606.1 1500.0L606.7 1500.0L607.3 1500.0L607.9 1500.0L608.6 364.6L609.2 350.6L609.8 367.2L610.4 336.8L611.0 355.2L611.7 373.3L612.3 334.4L612.9 333.0L613.5 1500.0L614.1 342.9L614.8 345.4L615.4 347.7L616.0 362.0L616.6 1500.0L617.2 346.1L617.9 1500.0L618.5 336.8L619.1 1500.0L619.7 342.6L620.3 348.9L621.0 1500.0L621.6 339.9L622.2 337.6L622.8 353.1L623.4 342.6L624.1 1500.0L624.7 1500.0L625.3 333.6L625.9 342.2L626.5 344.9L627.2 341.3L627.8 1500.0L628.4 342.2L629.0 1500.0L629.6 358.9L630.3 1500.0L630.9 351.5L631.5 1500.0L632.1 1500.0L632.7 338.5L633.4 364.7L634.0 1500.0L634.6 1500.0L635.2 1500.0L635.8 333.4L636.5 1500.0L637.1 354.4L637.7 333.5L638.3 340.3L638.9 1500.0L639.6 1500.0L640.2 1500.0L640.8 328.2L641.4 362.7L642.0 1500.0L642.7 351.7L643.3 342.0L643.9 346.3L644.5 348.2L645.1 1500.0L645.8 1500.0L646.4 1500.0L647.0 1500.0L647.6 372.7L648.2 1500.0L648.9 333.4L649.5 1500.0L650.1 334.6L650.7 339.3L651.3 347.3L652.0 1500.0" stroke="#d62728"/></g><rect x="90.5" y="52.5" width="558" height="326" fill="none" stroke="#cccccc" stroke-width="1"/><rect x="97.5" y="59.5" width="147" height="67" rx="3" ry="3" fill="#fff" fill-opacity="0.8" stroke="#cccccc" stroke-opacity="0.8" stroke-width="1"/><path d="M102.5 71.0H132.5" stroke="#bcbd22" stroke-width="1.5"/><text transform="translate(143.6 75.9)" font-size="14.35" fill="#2b2b2b">OptoBoard QA</text><path d="M102.5 91.8H132.5" stroke="#ff7f0e" stroke-width="1.5"/><text transform="translate(143.6 96.7)" font-size="14.35" fill="#2b2b2b">Post Burn-In</text><path d="M102.5 112.6H132.5" stroke="#d62728" stroke-width="1.5"/><text transform="translate(143.6 117.5)" font-size="14.35" fill="#2b2b2b">Pre Burn-In</text><text transform="translate(90.5 391.9) scale(0.885 1)" font-size="15.5" text-anchor="middle" fill="#000">840</text><text transform="translate(164.9 391.9) scale(0.885 1)" font-size="15.5" text-anchor="middle" fill="#000">842</text><text transform="translate(239.3 391.9) scale(0.885 1)" font-size="15.5" text-anchor="middle" fill="#000">844</text><text transform="translate(313.7 391.9) scale(0.885 1)" font-size="15.5" text-anchor="middle" fill="#000">846</text><text transform="translate(388.1 391.9) scale(0.885 1)" font-size="15.5" text-anchor="middle" fill="#000">848</text><text transform="translate(462.5 391.9) scale(0.885 1)" font-size="15.5" text-anchor="middle" fill="#000">850</text><text transform="translate(536.9 391.9) scale(0.885 1)" font-size="15.5" text-anchor="middle" fill="#000">852</text><text transform="translate(611.3 391.9) scale(0.885 1)" font-size="15.5" text-anchor="middle" fill="#000">854</text><text transform="translate(86.2 57.4) scale(0.885 1)" font-size="15.5" text-anchor="end" fill="#000">20</text><text transform="translate(86.2 116.7) scale(0.885 1)" font-size="15.5" text-anchor="end" fill="#000">0</text><text transform="translate(86.2 176.0) scale(0.885 1)" font-size="15.5" text-anchor="end" fill="#000">−20</text><text transform="translate(86.2 235.3) scale(0.885 1)" font-size="15.5" text-anchor="end" fill="#000">−40</text><text transform="translate(86.2 294.6) scale(0.885 1)" font-size="15.5" text-anchor="end" fill="#000">−60</text><text transform="translate(86.2 353.9) scale(0.885 1)" font-size="15.5" text-anchor="end" fill="#000">−80</text><text x="369" y="46" font-size="17.4" text-anchor="middle" fill="#1e1e1e">D4613 V20592 Ch. 6</text><text x="369" y="411.6" font-size="17.4" text-anchor="middle" fill="#1e1e1e">Wavelength [nm]</text><text transform="translate(53.8 215.5) rotate(-90)" x="0" y="0" font-size="17.4" text-anchor="middle" fill="#1e1e1e">Optical Power [dB]</text></svg>
</body></html>
